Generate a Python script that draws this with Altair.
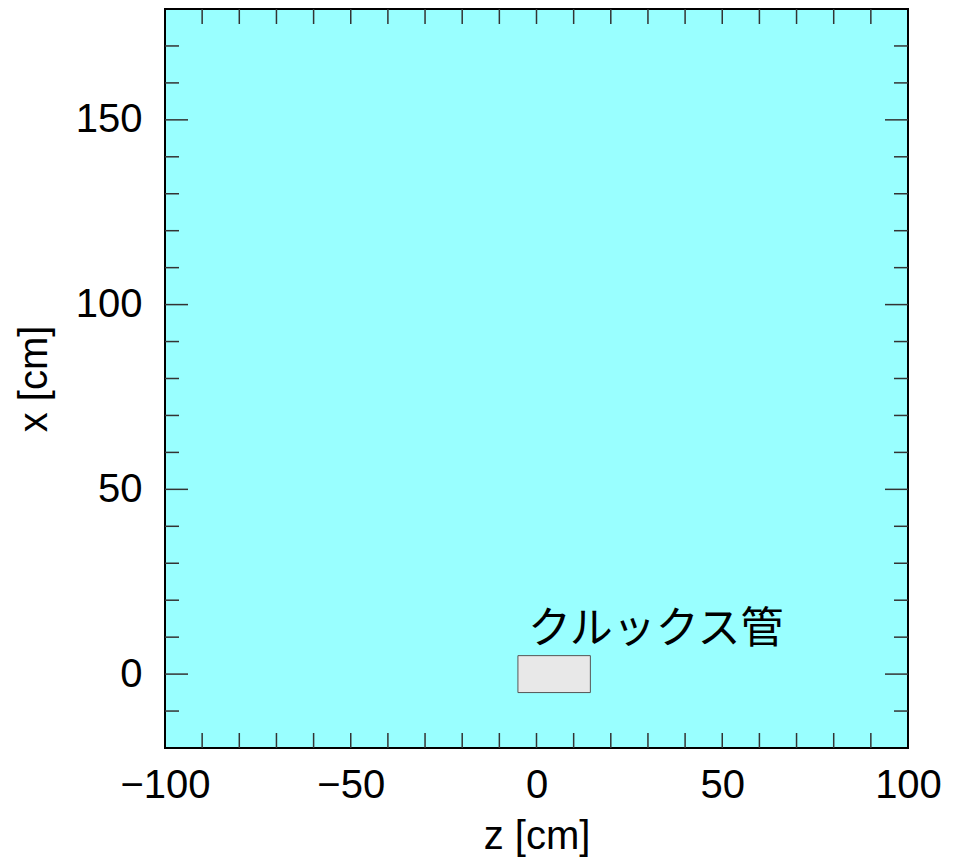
import altair as alt
import pandas as pd

# ---- data ----
z_label_values = [-100, -50, 0, 50, 100]
x_label_values = [0, 50, 100, 150]
z_ticks = [-90, -80, -70, -60, -50, -40, -30, -20, -10, 0, 10, 20, 30, 40, 50, 60, 70, 80, 90]
x_major_ticks = [0, 50, 100, 150]
x_minor_ticks = [-10, 10, 20, 30, 40, 60, 70, 80, 90, 110, 120, 130, 140, 160, 170]

tube_z0 = [-5]
tube_z1 = [14.5]
tube_x0 = [-5]
tube_x1 = [5]

label_text = ["クルックス管"]
label_z = [-2.3]
label_x = [8.5]

W, H = 743, 739
zscale = alt.Scale(domain=[-100, 100], nice=False, zero=False)
xscale = alt.Scale(domain=[-20, 180], nice=False, zero=False)

tube_df = pd.DataFrame({"z0": tube_z0, "z1": tube_z1, "x0": tube_x0, "x1": tube_x1})
label_df = pd.DataFrame({"z": label_z, "x": label_x, "t": label_text})
zt_df = pd.DataFrame({"z": z_ticks})
xmaj_df = pd.DataFrame({"x": x_major_ticks})
xmin_df = pd.DataFrame({"x": x_minor_ticks})

FONT = "Liberation Sans"
FS = 40

xaxis = alt.Axis(values=z_label_values, ticks=False, domain=False, grid=False,
                 labelFont=FONT, labelFontSize=FS, labelColor="black", labelPadding=17,
                 labelFlush=False, labelOverlap=False,
                 title="z [cm]", titleFont=FONT, titleFontSize=FS, titleFontWeight="normal",
                 titleColor="black", titlePadding=11)
yaxis = alt.Axis(values=x_label_values, ticks=False, domain=False, grid=False,
                 labelFont=FONT, labelFontSize=FS, labelColor="black", labelPadding=23,
                 labelFlush=False, labelOverlap=False,
                 title="x [cm]", titleFont=FONT, titleFontSize=FS, titleFontWeight="normal",
                 titleColor="black", titlePadding=21)


def X(field):
    return alt.X(field, scale=zscale, axis=xaxis, title="z [cm]")


def Y(field):
    return alt.Y(field, scale=xscale, axis=yaxis, title="x [cm]")


tube = alt.Chart(tube_df).mark_rect(fill="#e8e8e8", stroke="#555555", strokeWidth=1).encode(
    x=X("z0:Q"), x2="z1:Q", y=Y("x0:Q"), y2="x1:Q",
)

label = alt.Chart(label_df).mark_text(align="left", baseline="alphabetic",
                                      font="Noto Sans CJK JP", fontSize=43, color="black").encode(
    x=X("z:Q"), y=Y("x:Q"), text="t:N",
)

TC = "#333333"
TW = 1.5
bottom_ticks = alt.Chart(zt_df).mark_rule(color=TC, strokeWidth=TW).encode(
    x=X("z:Q"), y=alt.value(H - 15), y2=alt.value(H))
top_ticks = alt.Chart(zt_df).mark_rule(color=TC, strokeWidth=TW).encode(
    x=X("z:Q"), y=alt.value(0), y2=alt.value(15))
left_major = alt.Chart(xmaj_df).mark_rule(color=TC, strokeWidth=TW).encode(
    y=Y("x:Q"), x=alt.value(0), x2=alt.value(23))
left_minor = alt.Chart(xmin_df).mark_rule(color=TC, strokeWidth=TW).encode(
    y=Y("x:Q"), x=alt.value(0), x2=alt.value(14))
right_major = alt.Chart(xmaj_df).mark_rule(color=TC, strokeWidth=TW).encode(
    y=Y("x:Q"), x=alt.value(W - 23), x2=alt.value(W))
right_minor = alt.Chart(xmin_df).mark_rule(color=TC, strokeWidth=TW).encode(
    y=Y("x:Q"), x=alt.value(W - 14), x2=alt.value(W))

chart = alt.layer(
    tube, label, bottom_ticks, top_ticks, left_major, left_minor, right_major, right_minor
).properties(
    width=W, height=H,
    autosize=alt.AutoSizeParams(type="none"),
    padding={"left": 157, "top": 1, "right": 36, "bottom": 109},
).configure_view(fill="#99ffff", stroke="black", strokeWidth=2)

chart.save("out.html", embed_options={"renderer": "svg", "actions": False})
